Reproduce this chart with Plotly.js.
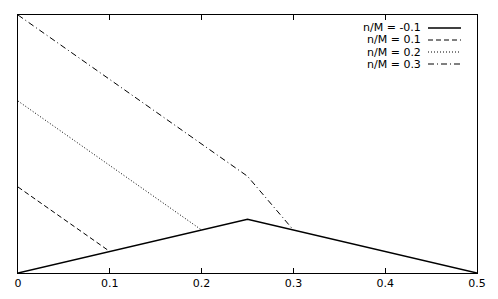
<!DOCTYPE html>
<html><head><meta charset="utf-8">
<script src="https://cdn.plot.ly/plotly-3.0.1.min.js"></script>
<style>html,body{margin:0;padding:0;background:#fff}#c{width:498px;height:299px}</style>
</head><body><div id="c"></div>
<script>
const seriesNames = ["n/M = -0.1", "n/M = 0.1", "n/M = 0.2", "n/M = 0.3"];
const xM1 = [0, 0.25, 0.5];
const yM1 = [0, 0.25, 0];
const x01 = [0, 0.1];
const y01 = [0.4, 0.1];
const x02 = [0, 0.2];
const y02 = [0.8, 0.2];
const x03 = [0, 0.25, 0.3];
const y03 = [1.2, 0.45, 0.2];
const tickVals = [0, 0.1, 0.2, 0.3, 0.4, 0.5];
const tickText = ["0", "0.1", "0.2", "0.3", "0.4", "0.5"];

const dashes = ["solid", "5px,3px", "1px,2px", "6px,3px,1px,3px"];
const widths = [1.5, 1, 1, 1];
const xs = [xM1, x01, x02, x03];
const ys = [yM1, y01, y02, y03];

const traces = xs.map((x, i) => ({
  x: x, y: ys[i], type: "scatter", mode: "lines", name: seriesNames[i],
  line: {color: "#000", width: widths[i], dash: dashes[i]}, showlegend: false
}));

const annotations = [], shapes = [];
const rowY = [28, 40, 52, 64];
seriesNames.forEach((n, i) => {
  annotations.push({text: n, xref: "paper", yref: "paper",
    x: (423 - 18) / 459, y: 1 - (rowY[i] - 15) / 258, xanchor: "right", yanchor: "middle",
    showarrow: false, font: {family: "DejaVu Sans", size: 11, color: "#000"}});
  shapes.push({type: "line", xref: "paper", yref: "paper",
    x0: (428 - 18) / 459, x1: (461 - 18) / 459,
    y0: 1 - (rowY[i] - 15) / 258, y1: 1 - (rowY[i] - 15) / 258,
    line: {color: "#000", width: widths[i], dash: dashes[i]}});
});

Plotly.newPlot("c", traces, {
  width: 498, height: 299,
  margin: {l: 18, r: 21, t: 15, b: 26},
  paper_bgcolor: "#fff", plot_bgcolor: "#fff",
  xaxis: {range: [0, 0.5], tickvals: tickVals, ticktext: tickText, ticks: "inside", ticklen: 5,
    tickcolor: "#000", showline: true, linecolor: "#000", linewidth: 1, mirror: "ticks",
    showgrid: false, zeroline: false, tickfont: {family: "DejaVu Sans", size: 11, color: "#000"}},
  yaxis: {range: [0, 1.2], showticklabels: false, ticks: "", showline: true, linecolor: "#000",
    linewidth: 1, mirror: true, showgrid: false, zeroline: false},
  annotations: annotations, shapes: shapes
}, {staticPlot: true});
</script></body></html>
